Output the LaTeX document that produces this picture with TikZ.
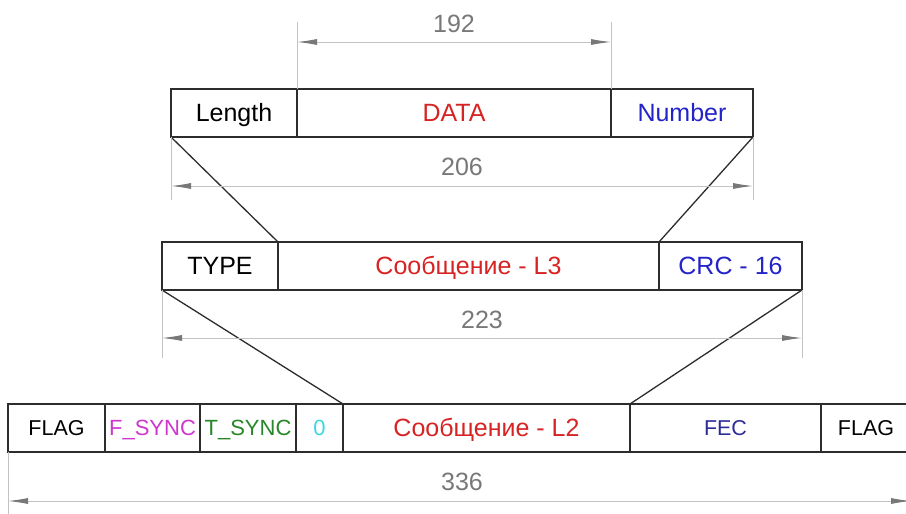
\documentclass[tikz,border=0pt]{standalone}
\usepackage{fontspec}
\setmainfont{Liberation Sans}
\usetikzlibrary{arrows.meta,calc}
\definecolor{boxc}{RGB}{45,45,45}
\definecolor{dimc}{RGB}{195,195,195}
\definecolor{arrc}{RGB}{120,120,120}
\definecolor{numc}{RGB}{120,120,120}
\definecolor{redc}{RGB}{215,35,35}
\definecolor{bluec}{RGB}{35,35,200}
\definecolor{navyc}{RGB}{45,45,150}
\definecolor{magc}{RGB}{205,55,205}
\definecolor{greenc}{RGB}{40,135,40}
\definecolor{cyanc}{RGB}{60,215,225}
\begin{document}
\begin{tikzpicture}[x=1pt,y=-1pt,
  field/.style={draw=boxc, line width=1.4pt, minimum height=48pt, inner sep=0pt, outer sep=0pt,
    anchor=north west, font=\fontsize{25}{29}\selectfont, text height=17.9pt, text depth=0pt},
  smallfield/.style={field, font=\fontsize{21.5}{25}\selectfont, text height=15.4pt},
  syncfield/.style={field, font=\fontsize{22}{26}\selectfont, text height=15.8pt},
  link/.style={draw=boxc, line width=1.3pt},
  ext/.style={draw=dimc, line width=0.9pt},
  dimline/.style={draw=dimc, line width=0.9pt,
    {Latex[length=20pt,width=6pt,color=arrc]}-{Latex[length=20pt,width=6pt,color=arrc]}},
  dimtext/.style={text=numc, font=\fontsize{25}{29}\selectfont, inner sep=0pt}
]
\useasboundingbox (0,0) rectangle (906,514);
\clip (0,0) rectangle (906,514);
\fill[white] (0,0) rectangle (906,514);

% top row
\node[field, minimum width=126pt] (len) at (171,89) {Length};
\node[field, minimum width=314pt, text=redc] (data) at (297,89) {DATA};
\node[field, minimum width=142pt, text=bluec] (num) at (611,89) {Number};

% middle row
\node[field, minimum width=116pt] (type) at (162,242) {TYPE};
\node[field, minimum width=381pt, text=redc] (msg3) at (278,242) {Сообщение - L3};
\node[field, minimum width=143pt, text=bluec] (crc) at (659,242) {CRC - 16};

% bottom row
\node[smallfield, minimum width=97pt] (flag1) at (8,404) {FLAG};
\node[syncfield, minimum width=95pt, text=magc] (fsync) at (105,404) {F\_SYNC};
\node[syncfield, minimum width=96pt, text=greenc] (tsync) at (200,404) {T\_SYNC};
\node[syncfield, minimum width=47pt, text=cyanc] (zero) at (296,404) {0};
\node[field, minimum width=287pt, text=redc] (msg2) at (343,404) {Сообщение - L2};
\node[smallfield, minimum width=191pt, text=navyc] (fec) at (630,404) {FEC};
\node[smallfield, minimum width=90pt] (flag2) at (821,404) {FLAG};

% trapezoid connectors
\draw[link] (len.south west) -- (type.north east);
\draw[link] (num.south east) -- (crc.north west);
\draw[link] (type.south west) -- (zero.north east);
\draw[link] (crc.south east) -- (msg2.north east);

% dimension levels
\coordinate (d192) at (0,42);
\coordinate (e192) at (0,22);
\coordinate (d206) at (0,186);
\coordinate (e206) at (0,200);
\coordinate (d223) at (0,338);
\coordinate (e223) at (0,358);
\coordinate (d336) at (0,501);
\coordinate (e336) at (0,514);

% 192
\draw[ext] (data.north west) -- (data.north west |- e192);
\draw[ext] (data.north east) -- (data.north east |- e192);
\draw[dimline] (data.north west |- d192) -- (data.north east |- d192);
\node[dimtext] (t192) at (454,24) {192};

% 206
\draw[ext] (len.south west) -- (len.south west |- e206);
\draw[ext] (num.south east) -- (num.south east |- e206);
\draw[dimline] (len.south west |- d206) -- (num.south east |- d206);
\node[dimtext] (t206) at (462,167) {206};

% 223
\draw[ext] (type.south west) -- (type.south west |- e223);
\draw[ext] (crc.south east) -- (crc.south east |- e223);
\draw[dimline] (type.south west |- d223) -- (crc.south east |- d223);
\node[dimtext] (t223) at (482,320) {223};

% 336
\draw[ext] (flag1.south west) -- (flag1.south west |- e336);
\draw[dimline] (flag1.south west |- d336) -- (flag2.south east |- d336);
\node[dimtext] (t336) at (462,482) {336};
\end{tikzpicture}
\end{document}
